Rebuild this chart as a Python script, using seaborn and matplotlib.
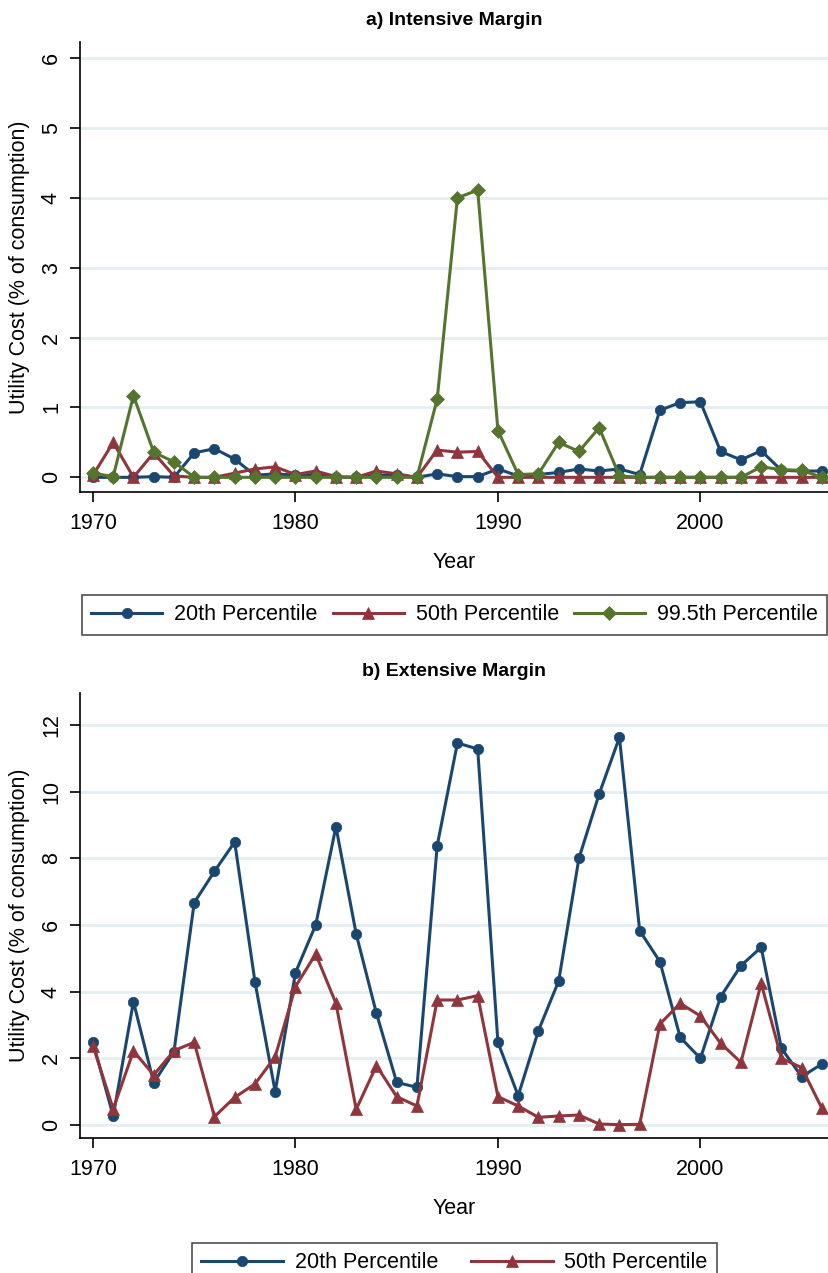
import numpy as np
import pandas as pd
import matplotlib
matplotlib.use("Agg")
import matplotlib.pyplot as plt
import seaborn as sns

years = list(range(1970, 2007))

# a) Intensive margin
int_p20 = [0.00, 0.00, 0.00, 0.01, 0.00, 0.35, 0.41, 0.26, 0.03, 0.05,
           0.03, 0.04, 0.00, 0.00, 0.03, 0.03, 0.00, 0.05, 0.01, 0.01,
           0.12, 0.02, 0.04, 0.07, 0.12, 0.09, 0.12, 0.04, 0.96, 1.07,
           1.08, 0.37, 0.25, 0.38, 0.10, 0.09, 0.09]
int_p50 = [0.03, 0.50, 0.00, 0.35, 0.02, 0.00, 0.00, 0.06, 0.12, 0.15,
           0.04, 0.09, 0.01, 0.00, 0.09, 0.05, 0.00, 0.39, 0.36, 0.37,
           0.00, 0.00, 0.00, 0.00, 0.00, 0.00, 0.00, 0.00, 0.00, 0.00,
           0.00, 0.00, 0.00, 0.00, 0.00, 0.00, 0.00]
int_p995 = [0.06, 0.01, 1.17, 0.36, 0.22, 0.00, 0.00, 0.00, 0.00, 0.00,
            0.00, 0.00, 0.00, 0.00, 0.00, 0.00, 0.00, 1.12, 4.00, 4.11,
            0.67, 0.04, 0.05, 0.50, 0.37, 0.71, 0.02, 0.00, 0.00, 0.00,
            0.00, 0.00, 0.00, 0.15, 0.11, 0.10, 0.00]

# b) Extensive margin
ext_p20 = [2.48, 0.27, 3.70, 1.27, 2.20, 6.67, 7.61, 8.49, 4.30, 1.00,
           4.57, 6.00, 8.95, 5.73, 3.35, 1.28, 1.13, 8.38, 11.46, 11.28,
           2.48, 0.88, 2.83, 4.32, 8.00, 9.93, 11.63, 5.83, 4.90, 2.63,
           2.00, 3.85, 4.78, 5.33, 2.30, 1.45, 1.83]
ext_p50 = [2.38, 0.48, 2.22, 1.50, 2.23, 2.48, 0.25, 0.83, 1.23, 2.05,
           4.15, 5.13, 3.65, 0.47, 1.78, 0.85, 0.57, 3.75, 3.75, 3.88,
           0.85, 0.57, 0.23, 0.27, 0.30, 0.03, 0.01, 0.02, 3.03, 3.65,
           3.27, 2.45, 1.88, 4.25, 2.00, 1.72, 0.50]

labels = ["20th Percentile", "50th Percentile", "99.5th Percentile"]
colors = ["#1a476f", "#90353b", "#55752f"]
markers = ["o", "^", "D"]
msizes = [7.5, 8, 7.5]

plt.rcParams["font.family"] = ["Liberation Sans", "DejaVu Sans"]

fig = plt.figure(figsize=(8.29, 12.73), dpi=100)
ax1 = fig.add_axes([80 / 829, 1 - 492 / 1273, 749 / 829, 450 / 1273])
ax2 = fig.add_axes([80 / 829, 1 - 1138 / 1273, 749 / 829, 445 / 1273])


def draw(ax, series, title, ylim, yticks, legend_kw):
    for vals, lab, c, m, ms in zip(series, labels, colors, markers, msizes):
        df = pd.DataFrame({"Year": years, "val": vals})
        sns.lineplot(data=df, x="Year", y="val", ax=ax, color=c, marker=m,
                     markersize=ms, markeredgecolor=c, markeredgewidth=0.5,
                     linewidth=2.2, label=lab, zorder=3, errorbar=None)
    ax.set_xlim(1969.36, 2006.35)
    ax.set_ylim(*ylim)
    ax.set_xticks([1970, 1980, 1990, 2000])
    ax.set_yticks(yticks)
    ax.set_yticklabels([str(t) for t in yticks], rotation=90, va="center")
    ax.grid(axis="y", color="#e6eef1", linewidth=2.0, zorder=0)
    ax.grid(axis="x", visible=False)
    ax.set_axisbelow(True)
    for s in ["top", "right"]:
        ax.spines[s].set_visible(False)
    for s in ["left", "bottom"]:
        ax.spines[s].set_color("black")
        ax.spines[s].set_linewidth(1.2)
    ax.tick_params(axis="both", direction="out", length=7, width=1.2,
                   labelsize=15.5, color="black")
    ax.tick_params(axis="x", pad=8)
    ax.tick_params(axis="y", pad=6)
    ax.set_xlabel("Year", fontsize=15.5, labelpad=13)
    ax.set_ylabel("Utility Cost (% of consumption)", fontsize=15.5, labelpad=8)
    ax.set_title(title, fontsize=14, fontweight="bold", pad=12)
    ax.set_facecolor("white")
    handles, labs = ax.get_legend_handles_labels()
    leg = ax.legend(handles, labs, loc="upper center", ncol=len(handles),
                    fontsize=15.5, frameon=True, fancybox=False,
                    edgecolor="#222222", numpoints=1, borderpad=0.45,
                    handletextpad=0.55, **legend_kw)
    leg.get_frame().set_linewidth(1.2)
    for lh in leg.get_lines():
        lh.set_linewidth(2.2)


draw(ax1, [int_p20, int_p50, int_p995], "a) Intensive Margin", (-0.21, 6.23),
     [0, 1, 2, 3, 4, 5, 6],
     dict(bbox_to_anchor=(0.5, -0.204), handlelength=3.3, columnspacing=0.7))
draw(ax2, [ext_p20, ext_p50], "b) Extensive Margin", (-0.39, 12.96),
     [0, 2, 4, 6, 8, 10, 12],
     dict(bbox_to_anchor=(0.5, -0.211), handlelength=3.8, columnspacing=1.5))

fig.savefig("out.png", dpi=100, facecolor="white")
